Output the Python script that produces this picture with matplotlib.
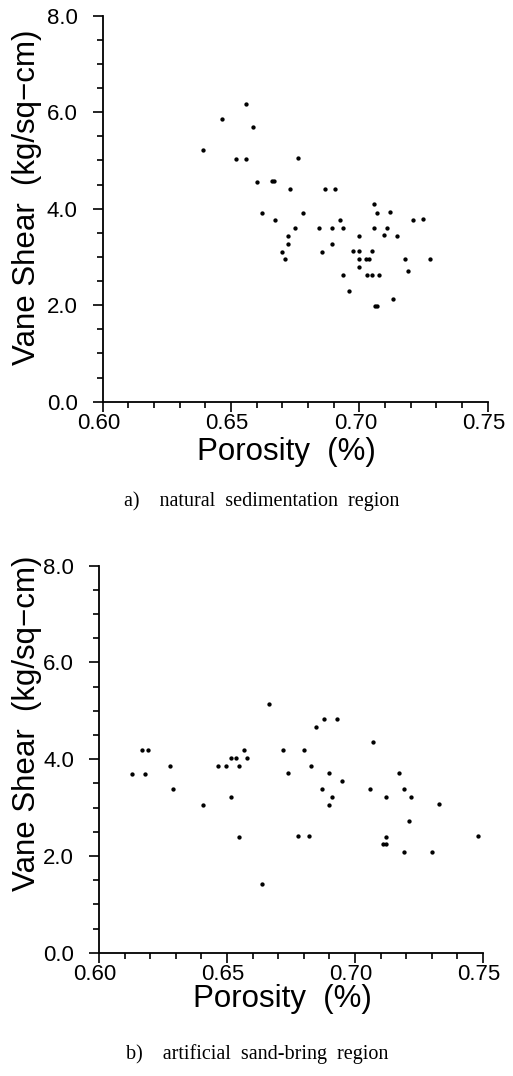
import matplotlib
matplotlib.use("Agg")
import matplotlib.pyplot as plt
import matplotlib.transforms as mtransforms
from matplotlib.ticker import MultipleLocator, FormatStrFormatter

# Panel a: natural sedimentation region
porosity_a = [0.6557, 0.6466, 0.6586, 0.6392, 0.6519, 0.6558, 0.6760, 0.6600,
              0.6658, 0.6668, 0.6729, 0.6865, 0.6905, 0.6619, 0.6780, 0.6670,
              0.6925, 0.6751, 0.6844, 0.6895, 0.6935, 0.6721, 0.6721, 0.6700,
              0.6709, 0.6855, 0.6895, 0.6935, 0.6958, 0.6997, 0.6975, 0.6997,
              0.6997, 0.6997, 0.7025, 0.7039, 0.7048, 0.7029, 0.7048, 0.7078,
              0.7057, 0.7068, 0.7118, 0.7057, 0.7108, 0.7097, 0.7147, 0.7061,
              0.7070, 0.7130, 0.7178, 0.7190, 0.7208, 0.7246, 0.7275]
shear_a = [6.18, 5.85, 5.69, 5.22, 5.04, 5.04, 5.06, 4.55,
           4.57, 4.57, 4.41, 4.41, 4.41, 3.92, 3.92, 3.77,
           3.77, 3.59, 3.59, 3.59, 3.59, 3.44, 3.27, 3.11,
           2.96, 3.11, 3.27, 2.63, 2.30, 3.44, 3.12, 3.12,
           2.96, 2.79, 2.96, 2.96, 3.12, 2.63, 2.63, 2.63,
           4.10, 3.92, 3.93, 3.60, 3.60, 3.45, 3.44, 1.98,
           1.98, 2.13, 2.96, 2.70, 3.77, 3.78, 2.96]

# Panel b: artificial sand-bring region
porosity_b = [0.6129, 0.6180, 0.6169, 0.6190, 0.6279, 0.6289, 0.6407, 0.6466,
              0.6496, 0.6517, 0.6536, 0.6547, 0.6566, 0.6577, 0.6517, 0.6547,
              0.6638, 0.6665, 0.6718, 0.6740, 0.6779, 0.6820, 0.6800, 0.6829,
              0.6849, 0.6879, 0.6928, 0.6870, 0.6900, 0.6950, 0.6910, 0.6900,
              0.7069, 0.7060, 0.7120, 0.7120, 0.7108, 0.7120, 0.7171, 0.7190,
              0.7220, 0.7210, 0.7190, 0.7300, 0.7329, 0.7480]
shear_b = [3.70, 3.70, 4.19, 4.19, 3.86, 3.38, 3.05, 3.86,
           3.86, 4.02, 4.02, 3.86, 4.19, 4.02, 3.21, 2.40,
           1.43, 5.14, 4.19, 3.71, 2.41, 2.41, 4.19, 3.86,
           4.67, 4.83, 4.83, 3.38, 3.71, 3.55, 3.22, 3.06,
           4.35, 3.38, 3.22, 2.40, 2.25, 2.25, 3.71, 3.38,
           3.22, 2.73, 2.09, 2.09, 3.07, 2.41]

x_label = "Porosity  (%)"
y_label = "Vane Shear  (kg/sq\u2212cm)"
captions = ["a)    natural  sedimentation  region",
            "b)    artificial  sand-bring  region"]

W, H = 513, 1076
fig = plt.figure(figsize=(W / 100, H / 100), dpi=100)

def px_axes(left, top, right, bottom):
    return fig.add_axes([left / W, 1 - bottom / H, (right - left) / W, (bottom - top) / H])

sans = ["Liberation Sans", "DejaVu Sans"]
serif = ["Liberation Serif", "DejaVu Serif"]

# (axes box px), (xlabel center x, y), (ylabel center x, y), (caption center x, y)
panels = [
    (porosity_a, shear_a, (102.7, 15.7, 487.7, 401.7), (286, 452), (27, 197), (262, 501)),
    (porosity_b, shear_b, (99, 565.7, 483, 952.7), (282, 999), (27, 723), (257, 1054)),
]

shift = mtransforms.ScaledTranslation(-4 / 100, 0, fig.dpi_scale_trans)

for i, (xs, ys, box, xl, yl, cap) in enumerate(panels):
    ax = px_axes(*box)
    ax.plot(xs, ys, linestyle="none", marker="o", markersize=2.1, color="black")
    ax.set_xlim(0.60, 0.75)
    ax.set_ylim(0.0, 8.0)
    for s in ["top", "right"]:
        ax.spines[s].set_visible(False)
    for s in ["left", "bottom"]:
        ax.spines[s].set_linewidth(1.3)
    ax.xaxis.set_major_locator(MultipleLocator(0.05))
    ax.xaxis.set_minor_locator(MultipleLocator(0.01))
    ax.yaxis.set_major_locator(MultipleLocator(2.0))
    ax.yaxis.set_minor_locator(MultipleLocator(0.5))
    ax.xaxis.set_major_formatter(FormatStrFormatter("%.2f"))
    ax.yaxis.set_major_formatter(FormatStrFormatter("%.1f"))
    ax.tick_params(which="major", direction="out", length=7, width=1.2, labelsize=16)
    ax.tick_params(which="minor", direction="out", length=4.5, width=1.2)
    ax.tick_params(axis="x", which="major", pad=1)
    ax.tick_params(axis="y", which="major", pad=11)
    for t in ax.get_xticklabels():
        t.set_family(sans)
        t.set_transform(t.get_transform() + shift)
    for t in ax.get_yticklabels():
        t.set_family(sans)
    fig.text(yl[0] / W, 1 - yl[1] / H, y_label, fontsize=22.5, family=sans,
             rotation=90, ha="center", va="center")
    fig.text(xl[0] / W, 1 - xl[1] / H, x_label, fontsize=22.5, family=sans,
             ha="center", va="center")
    fig.text(cap[0] / W, 1 - cap[1] / H, captions[i], fontsize=14.5, family=serif,
             ha="center", va="center")

fig.savefig("out.png", dpi=100)
